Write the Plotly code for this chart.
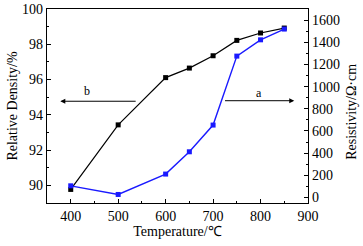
import plotly.graph_objects as go

temperature = [400, 500, 600, 650, 700, 750, 800, 850]
relative_density = [89.77, 93.43, 96.11, 96.65, 97.35, 98.22, 98.64, 98.92]
resistivity = [105, 27, 211, 412, 653, 1275, 1422, 1519]

font = dict(family="Liberation Serif, Times New Roman, serif", size=14, color="black")

fig = go.Figure()
fig.add_trace(go.Scatter(x=temperature, y=relative_density, mode="lines+markers",
                         line=dict(color="black", width=1.2),
                         marker=dict(symbol="square", size=5, color="black"),
                         yaxis="y", showlegend=False))
fig.add_trace(go.Scatter(x=temperature, y=resistivity, mode="lines+markers",
                         line=dict(color="#1a1aff", width=1.4),
                         marker=dict(symbol="square", size=5, color="#1a1aff"),
                         yaxis="y2", showlegend=False))

axis_common = dict(showline=True, linecolor="black", linewidth=1.2, ticks="inside",
                   ticklen=4, tickwidth=1, tickcolor="black", showgrid=False,
                   zeroline=False, tickfont=font, automargin=False)

fig.update_layout(
    width=363, height=246,
    margin=dict(l=47, r=55, t=9, b=43, autoexpand=False),
    paper_bgcolor="white", plot_bgcolor="white",
    font=font,
    xaxis=dict(range=[350, 900], dtick=100, tick0=400, mirror=True,
               minor=dict(dtick=50, ticks="inside", ticklen=2, tickcolor="black"),
               title=dict(text="Temperature/℃", font=font, standoff=0), **axis_common),
    yaxis=dict(range=[89, 100], dtick=2, tick0=90,
               minor=dict(dtick=1, ticks="inside", ticklen=2, tickcolor="black"),
               title=dict(text="Relative Density/%", font=font, standoff=1), **axis_common),
    yaxis2=dict(range=[-50, 1700], dtick=200, tick0=0, overlaying="y", side="right",
                minor=dict(dtick=100, ticks="inside", ticklen=2, tickcolor="black"),
                **axis_common),
)

fig.add_annotation(x=1.0, y=0.47, xref="paper", yref="paper", xshift=44,
                   text="Resistivity/Ω·cm", textangle=-90, showarrow=False,
                   xanchor="center", yanchor="middle", font=font)

arrow = dict(showarrow=True, arrowhead=2, arrowsize=1, arrowwidth=1, arrowcolor="black",
             xref="x", yref="y", axref="x", ayref="y", text="")
fig.add_annotation(x=378, y=94.77, ax=540, ay=94.77, **arrow)
fig.add_annotation(x=871, y=94.8, ax=722, ay=94.8, **arrow)
fig.add_annotation(x=435, y=95.37, text="b", showarrow=False, xref="x", yref="y",
                   font=dict(family=font["family"], size=12, color="black"))
fig.add_annotation(x=796, y=95.24, text="a", showarrow=False, xref="x", yref="y",
                   font=dict(family=font["family"], size=12, color="black"))

fig.write_html("out.html", config={"displayModeBar": False},
               post_script="document.body.style.margin='0px';")
